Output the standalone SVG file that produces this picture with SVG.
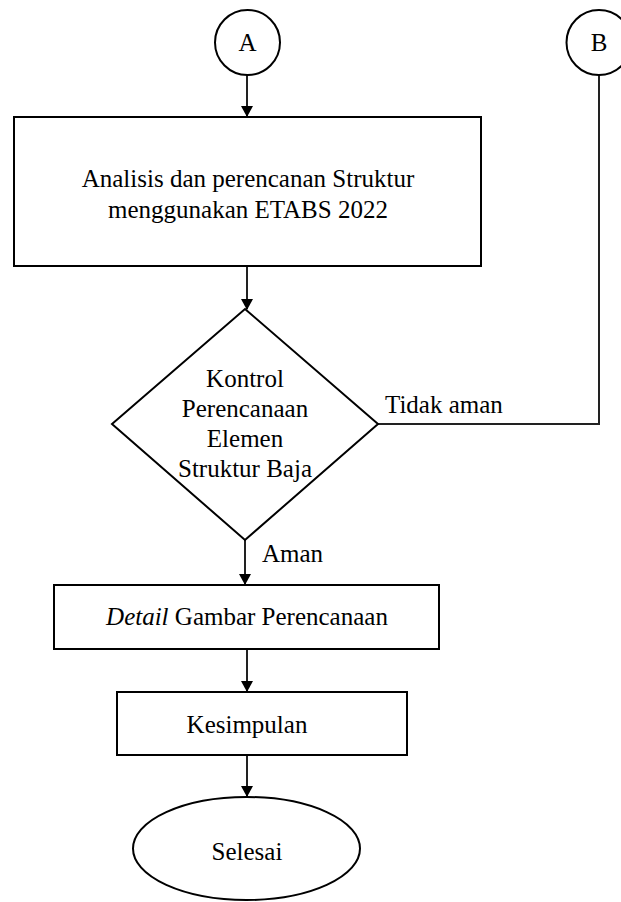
<svg xmlns="http://www.w3.org/2000/svg" width="621" height="902" viewBox="0 0 621 902">
<style>
.s{fill:#fff;stroke:#000;stroke-width:2}
.t{font-size:25px;fill:#000;text-anchor:middle}
.l{font-size:25px;fill:#000}
.c{fill:none;stroke:#222;stroke-width:2}
</style>
<defs>
<marker id="ah" markerWidth="12" markerHeight="12" refX="10" refY="6" orient="auto" markerUnits="userSpaceOnUse">
<path d="M0,0 L11,6 L0,12 Z" fill="#000"/>
</marker>
</defs>
<g font-family="'Liberation Serif', 'Times New Roman', 'DejaVu Serif', serif">
<g id="connectors">
<line class="c" x1="247" y1="75" x2="247" y2="116" marker-end="url(#ah)"/>
<line class="c" x1="247" y1="266" x2="247" y2="309" marker-end="url(#ah)"/>
<line class="c" x1="245" y1="540" x2="245" y2="584" marker-end="url(#ah)"/>
<line class="c" x1="247" y1="649" x2="247" y2="691" marker-end="url(#ah)"/>
<line class="c" x1="247" y1="755" x2="247" y2="796" marker-end="url(#ah)"/>
<polyline class="c" points="599,75 599,424 378,424"/>
<text class="l" x="385" y="413">Tidak aman</text>
<text class="l" x="262" y="562">Aman</text>
</g>
<g id="nodeA">
<circle class="s" cx="247.5" cy="42.5" r="32.5"/>
<text class="t" x="247.5" y="51">A</text>
</g>
<g id="nodeB">
<circle class="s" cx="599" cy="42.5" r="32.5"/>
<text class="t" x="599" y="51">B</text>
</g>
<g id="analisis">
<rect class="s" x="14" y="117" width="467" height="149"/>
<text class="t" x="248" y="187">Analisis dan perencanan Struktur</text>
<text class="t" x="248" y="218">menggunakan ETABS 2022</text>
</g>
<g id="kontrol">
<polygon class="s" points="245,309 378,424 245,540 112,424"/>
<text class="t" x="245" y="387">Kontrol</text>
<text class="t" x="245" y="417">Perencanaan</text>
<text class="t" x="245" y="447">Elemen</text>
<text class="t" x="245" y="477">Struktur Baja</text>
</g>
<g id="detail">
<rect class="s" x="54" y="585" width="385" height="64"/>
<text class="t" x="247" y="625"><tspan font-style="italic">Detail</tspan> Gambar Perencanaan</text>
</g>
<g id="kesimpulan">
<rect class="s" x="117" y="692" width="290" height="63"/>
<text class="t" x="247" y="733">Kesimpulan</text>
</g>
<g id="selesai">
<ellipse class="s" cx="246.5" cy="848.5" rx="113.5" ry="51.5"/>
<text class="t" x="247" y="860">Selesai</text>
</g>
</g>
</svg>
